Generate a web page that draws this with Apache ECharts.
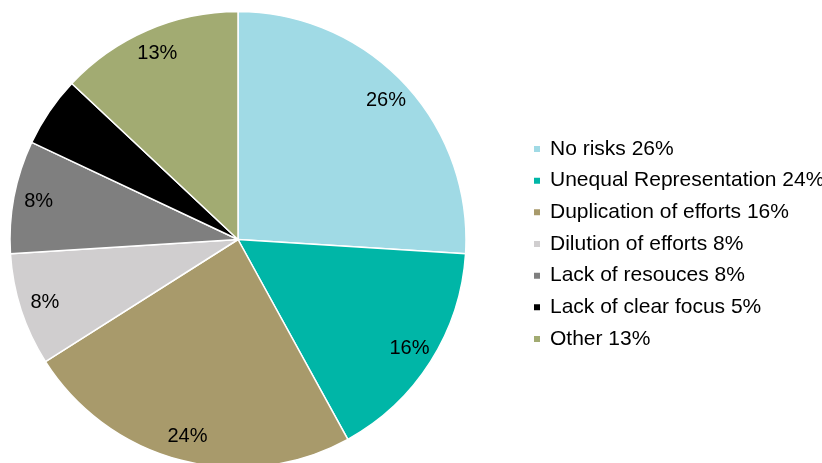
<!DOCTYPE html>
<html>
<head>
<meta charset="utf-8">
<script src="https://cdn.jsdelivr.net/npm/echarts@6/dist/echarts.min.js"></script>
<style>html,body{margin:0;padding:0;background:#fff;}#c{width:822px;height:463px;}</style>
</head>
<body>
<div id="c"></div>
<script>
var categories = ['No risks 26%', 'Unequal Representation 24%', 'Duplication of efforts 16%', 'Dilution of efforts 8%', 'Lack of resouces 8%', 'Lack of clear focus 5%', 'Other 13%'];
var values = [26, 16, 24, 8, 8, 5, 13];
var colors = ['#A0DAE5', '#00B6A7', '#A89A6B', '#D0CECF', '#7F7F7F', '#000000', '#A2AB72'];

var data = categories.map(function (n, i) {
  return { name: n, value: values[i], itemStyle: { color: colors[i] } };
});
var labelData = categories.map(function (n, i) {
  return { name: n, value: values[i] };
});

var chart = echarts.init(document.getElementById('c'), null, { renderer: 'canvas' });
chart.setOption({
  animation: false,
  backgroundColor: '#ffffff',
  legend: {
    orient: 'vertical',
    left: 527,
    top: 132,
    padding: 5,
    icon: 'rect',
    itemWidth: 8,
    itemHeight: 8,
    itemGap: 7.67,
    data: categories,
    selectedMode: false,
    textStyle: { fontFamily: 'Liberation Sans, Arial, sans-serif', fontSize: 21, color: '#000', lineHeight: 24, padding: [0, 0, 0, 4] }
  },
  series: [
    {
      type: 'pie',
      center: [238, 239.5],
      radius: [0, 228],
      startAngle: 90,
      clockwise: true,
      silent: true,
      itemStyle: { borderColor: '#ffffff', borderWidth: 1.5 },
      label: { show: false },
      labelLine: { show: false },
      data: data
    },
    {
      type: 'pie',
      center: [238, 239.5],
      radius: [172, 228],
      startAngle: 90,
      clockwise: true,
      silent: true,
      itemStyle: { color: 'rgba(0,0,0,0)', borderWidth: 0 },
      label: {
        show: true,
        position: 'inside',
        formatter: function (p) { return p.value + '%'; },
        fontFamily: 'Liberation Sans, Arial, sans-serif',
        fontSize: 20,
        color: '#000'
      },
      labelLine: { show: false },
      data: labelData
    }
  ]
});
</script>
</body>
</html>
